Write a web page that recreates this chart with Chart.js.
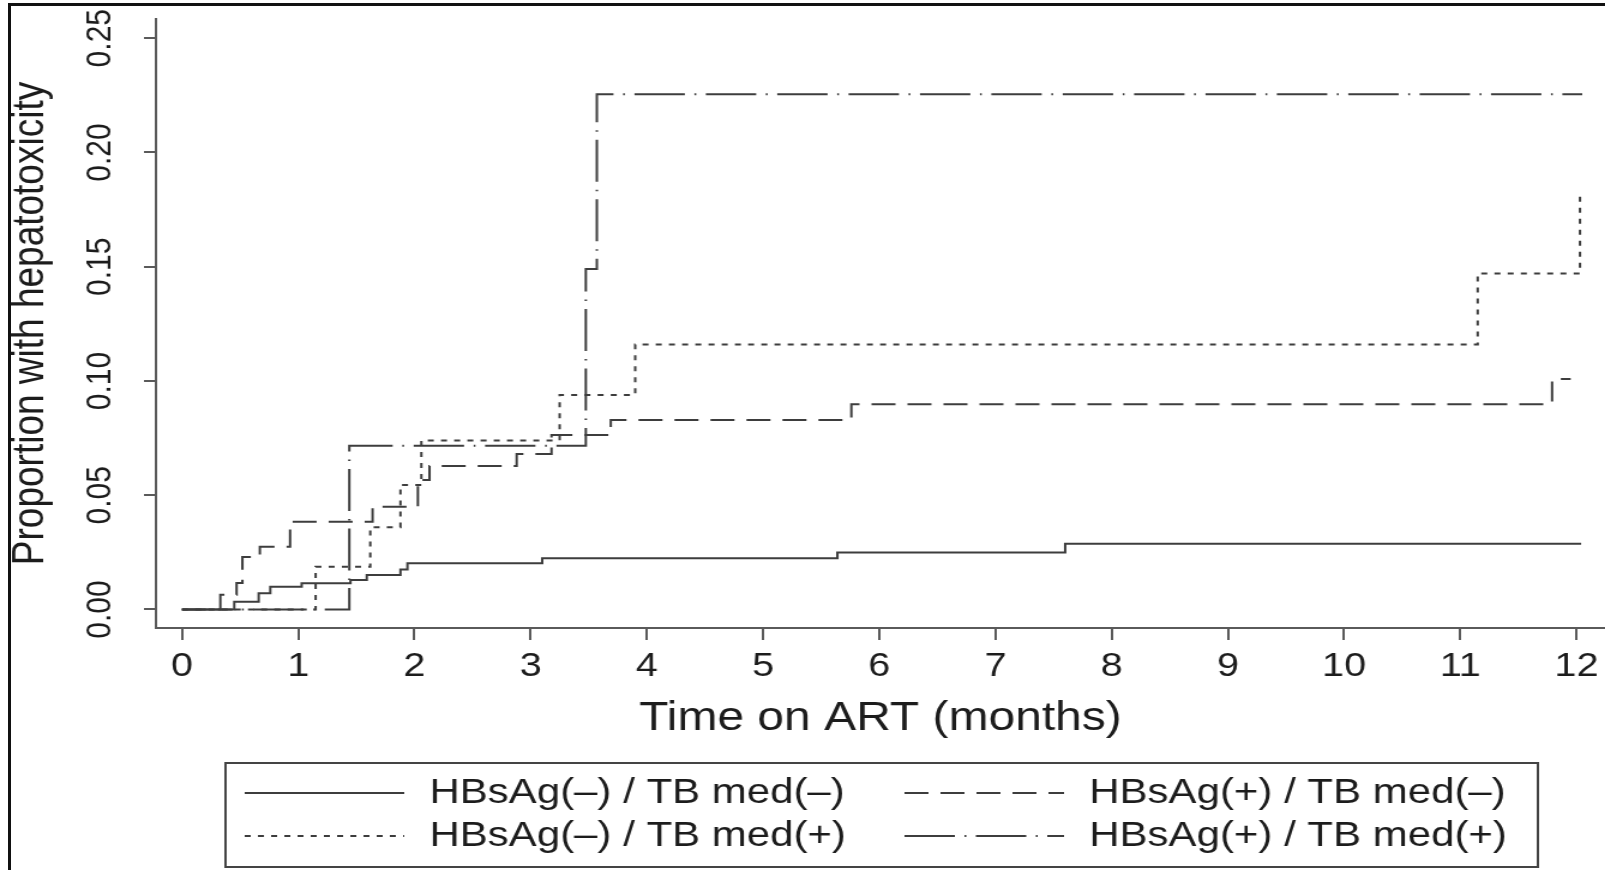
<!DOCTYPE html>
<html>
<head>
<meta charset="utf-8">
<script src="https://cdn.jsdelivr.net/npm/chart.js@4"></script>
<style>
  body { margin: 0; background: #fff; overflow: hidden; }
  /* the source picture is stretched sideways, so the chart is drawn narrower and widened */
  #wrap { position: absolute; left: 0; top: 0; width: 1338px; height: 870px; transform: scaleX(1.1996); transform-origin: 0 0; }
  #frame { position: absolute; left: 8px; top: 3px; width: 1700px; height: 900px; border-top: 3px solid #111; border-left: 3px solid #111; pointer-events: none; }
</style>
</head>
<body>
<div id="wrap"><canvas id="km" width="1338" height="870"></canvas></div>
<div id="frame"></div>
<script>
// ===== Data =====
const seriesLabels = ['HBsAg(–) / TB med(–)', 'HBsAg(+) / TB med(–)', 'HBsAg(–) / TB med(+)', 'HBsAg(+) / TB med(+)'];

const timesNegNeg  = [0, 0.45, 0.66, 0.76, 1.03, 1.45, 1.59, 1.88, 1.94, 3.10, 5.64, 7.60, 12.04];
const valuesNegNeg = [0, 0.0034, 0.0071, 0.0100, 0.0115, 0.0129, 0.0151, 0.0175, 0.0202, 0.0224, 0.0249, 0.0288, 0.0288];

const timesPosNeg  = [0, 0.33, 0.47, 0.52, 0.67, 0.93, 1.64, 2.03, 2.13, 2.88, 3.18, 3.69, 5.76, 11.79, 11.95];
const valuesPosNeg = [0, 0.0064, 0.0116, 0.0230, 0.0275, 0.0384, 0.0450, 0.0567, 0.0628, 0.0680, 0.0764, 0.0829, 0.0898, 0.1009, 0.1009];

const timesNegPos  = [0, 1.15, 1.62, 1.88, 2.06, 3.25, 3.90, 11.15, 12.03];
const valuesNegPos = [0, 0.0187, 0.0360, 0.0545, 0.0740, 0.0939, 0.1160, 0.1470, 0.1810];

const timesPosPos  = [0, 1.44, 3.475, 3.57, 12.05];
const valuesPosPos = [0, 0.0717, 0.1490, 0.2255, 0.2255];

const xTicks = [0, 1, 2, 3, 4, 5, 6, 7, 8, 9, 10, 11, 12];
const yTicks = [0, 0.05, 0.10, 0.15, 0.20, 0.25];
const yTickLabels = ['0.00', '0.05', '0.10', '0.15', '0.20', '0.25'];

const xTitle = 'Time on ART (months)';
const yTitle = 'Proportion with hepatotoxicity';

// ===== Styles =====
const FONT = "'Liberation Sans', Arial, sans-serif";
const lineColor = '#3d3d3d';
const axisColor = '#5a5a5a';
const textColor = '#1c1c1c';
const dashes = [[], [20, 10], [5, 6], [42, 8, 1.5, 8]];

Chart.defaults.font.family = FONT;

function toPoints(times, values) {
  return times.map((t, i) => ({ x: t, y: values[i] }));
}

const allSeries = [
  toPoints(timesNegNeg, valuesNegNeg),
  toPoints(timesPosNeg, valuesPosNeg),
  toPoints(timesNegPos, valuesNegPos),
  toPoints(timesPosPos, valuesPosPos)
];

const datasets = allSeries.map((pts, i) => ({
  label: seriesLabels[i],
  data: pts,
  stepped: 'before',
  borderColor: lineColor,
  borderWidth: 2,
  borderDash: dashes[i],
  pointRadius: 0,
  fill: false
}));

// ===== Legend drawn in a box under the axes =====
const boxedLegend = {
  id: 'boxedLegend',
  afterDraw(chart) {
    const ctx = chart.ctx;
    const box = { left: 188, top: 763, right: 1282, bottom: 867 };
    const sampleX = [204, 754];
    const textX = [358, 908];
    const rowY = [793, 836];
    const sampleLen = 133;

    ctx.save();
    ctx.lineWidth = 2;
    ctx.strokeStyle = '#444';
    ctx.setLineDash([]);
    ctx.strokeRect(box.left, box.top, box.right - box.left, box.bottom - box.top);

    chart.data.datasets.forEach((ds, i) => {
      const col = i % 2;
      const row = Math.floor(i / 2);
      const y = rowY[row];
      ctx.strokeStyle = ds.borderColor;
      ctx.lineWidth = ds.borderWidth;
      ctx.setLineDash(ds.borderDash || []);
      ctx.beginPath();
      ctx.moveTo(sampleX[col], y);
      ctx.lineTo(sampleX[col] + sampleLen, y);
      ctx.stroke();

      ctx.setLineDash([]);
      ctx.fillStyle = textColor;
      ctx.font = '35px ' + FONT;
      ctx.textAlign = 'left';
      ctx.textBaseline = 'middle';
      ctx.fillText(ds.label, textX[col], y);
    });
    ctx.restore();
  }
};

const ctx = document.getElementById('km').getContext('2d');

new Chart(ctx, {
  type: 'line',
  data: { datasets },
  options: {
    responsive: false,
    animation: false,
    devicePixelRatio: 1,
    layout: { padding: { top: 19, left: 0, right: 0, bottom: 0 } },
    plugins: {
      legend: { display: false },
      tooltip: { enabled: false }
    },
    scales: {
      x: {
        type: 'linear',
        min: -0.224,
        max: 12.246,
        afterBuildTicks: scale => { scale.ticks = xTicks.map(v => ({ value: v })); },
        afterFit: scale => { scale.height = 242; scale.paddingLeft = 0; scale.paddingRight = 0; },
        grid: { drawOnChartArea: false, drawTicks: true, tickLength: 12, color: axisColor, lineWidth: 2 },
        border: { display: true, color: axisColor, width: 2 },
        ticks: {
          color: textColor,
          font: { size: 33 },
          padding: 7,
          maxRotation: 0,
          autoSkip: false,
          callback: v => String(v)
        },
        title: {
          display: true,
          text: xTitle,
          color: textColor,
          font: { size: 40 },
          padding: { top: 0, bottom: 127 }
        }
      },
      y: {
        type: 'linear',
        min: -0.0081,
        max: 0.2584,
        afterBuildTicks: scale => { scale.ticks = yTicks.map(v => ({ value: v })); },
        afterFit: scale => { scale.width = 130; scale.paddingTop = 0; scale.paddingBottom = 0; },
        grid: { drawOnChartArea: false, drawTicks: true, tickLength: 10, color: axisColor, lineWidth: 2 },
        border: { display: true, color: axisColor, width: 2 },
        ticks: {
          color: textColor,
          font: { size: 30 },
          padding: 7,
          minRotation: 90,
          maxRotation: 90,
          crossAlign: 'center',
          autoSkip: false,
          callback: (v, i) => yTickLabels[i]
        },
        title: {
          display: true,
          text: yTitle,
          color: textColor,
          font: { size: 37 },
          padding: { top: 4, bottom: 0 }
        }
      }
    }
  },
  plugins: [boxedLegend]
});
</script>
</body>
</html>
